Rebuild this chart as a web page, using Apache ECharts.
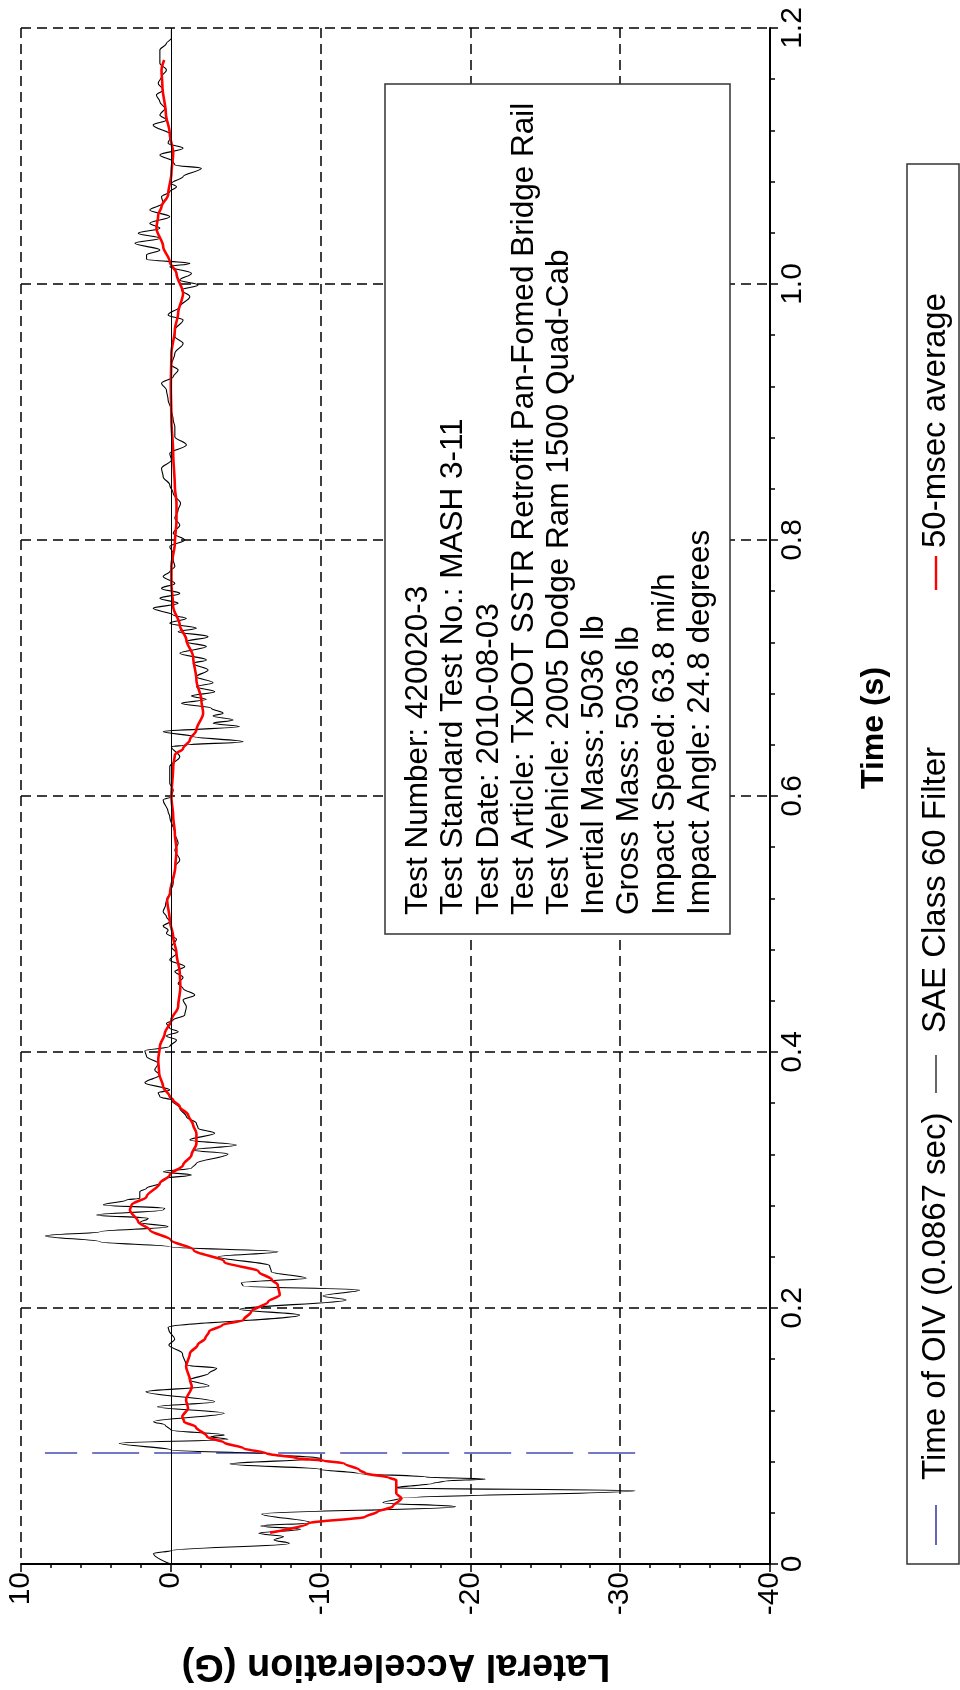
<!DOCTYPE html>
<html>
<head>
<meta charset="utf-8">
<script src="https://cdn.jsdelivr.net/npm/echarts@6/dist/echarts.min.js"></script>
<style>
html, body { margin: 0; padding: 0; background: #fff; }
#chart { width: 960px; height: 1690px; }
</style>
</head>
<body>
<div id="chart"></div>
<script>
// Lateral acceleration trace, plotted with time running up the page
const accelTickLabels = ['10', '0', '-10', '-20', '-30', '-40'];
const timeTickLabels = ['0', '0.2', '0.4', '0.6', '0.8', '1.0', '1.2'];

// SAE Class 60 filtered signal (s, G)
const saeTime = [
  0, 0.0083, 0.0104, 0.0161, 0.0188, 0.0214, 0.0240, 0.0271, 0.0297, 0.0323,
  0.0391, 0.0448, 0.0479, 0.0513, 0.0573, 0.0594, 0.0630, 0.0648, 0.0664, 0.0680,
  0.0708, 0.0740, 0.0781, 0.0826, 0.0859, 0.0891, 0.0943, 0.0974, 0.0995, 0.1008,
  0.1047, 0.1086, 0.1112, 0.1177, 0.1229, 0.1268, 0.1346, 0.1391, 0.1438, 0.1490,
  0.1529, 0.1555, 0.1646, 0.1711, 0.1755, 0.1828, 0.1849, 0.1945, 0.1990, 0.2063,
  0.2094, 0.2141, 0.2172, 0.2198, 0.2232, 0.2284, 0.2331, 0.2401, 0.2440, 0.2479,
  0.2518, 0.2563, 0.2596, 0.2635, 0.2667, 0.2700, 0.2727, 0.2766, 0.2779, 0.2805,
  0.2844, 0.2857, 0.2909, 0.2935, 0.2974, 0.3013, 0.3039, 0.3065, 0.3091, 0.3130,
  0.3203, 0.3234, 0.3273, 0.3313, 0.3365, 0.3404, 0.3443, 0.3495, 0.3560, 0.3625,
  0.3651, 0.3682, 0.3703, 0.3760, 0.3820, 0.3859, 0.3911, 0.3964, 0.4010, 0.4042,
  0.4094, 0.4125, 0.4159, 0.4185, 0.4224, 0.4250, 0.4289, 0.4354, 0.4406, 0.4445,
  0.4497, 0.4536, 0.4583, 0.4628, 0.4667, 0.4719, 0.4771, 0.4823, 0.4880, 0.4927,
  0.4953, 0.4984, 0.5018, 0.5057, 0.5096, 0.5148, 0.5188, 0.5240, 0.5318, 0.5448,
  0.5500, 0.5578, 0.5630, 0.5708, 0.5839, 0.5878, 0.5969, 0.5995, 0.6047, 0.6099,
  0.6229, 0.6307, 0.6385, 0.6398, 0.6424, 0.6464, 0.6503, 0.6542, 0.6568, 0.6594,
  0.6625, 0.6646, 0.6685, 0.6724, 0.6755, 0.6781, 0.6815, 0.6854, 0.6885, 0.6932,
  0.6984, 0.7036, 0.7063, 0.7115, 0.7167, 0.7206, 0.7245, 0.7284, 0.7310, 0.7349,
  0.7388, 0.7414, 0.7466, 0.7505, 0.7544, 0.7583, 0.7622, 0.7661, 0.7714, 0.7753,
  0.7792, 0.7844, 0.7896, 0.7948, 0.8000, 0.8052, 0.8117, 0.8169, 0.8234, 0.8286,
  0.8365, 0.8430, 0.8495, 0.8560, 0.8625, 0.8677, 0.8742, 0.8807, 0.8885, 0.8938,
  0.9016, 0.9094, 0.9172, 0.9224, 0.9276, 0.9328, 0.9367, 0.9458, 0.9536, 0.9589,
  0.9641, 0.9719, 0.9758, 0.9823, 0.9901, 0.9953, 0.9992, 1.0031, 1.0083, 1.0135,
  1.0161, 1.0193, 1.0227, 1.0266, 1.0318, 1.0357, 1.0396, 1.0435, 1.0474, 1.0526,
  1.0578, 1.0630, 1.0682, 1.0721, 1.0760, 1.0786, 1.0839, 1.0904, 1.0930, 1.0956,
  1.1008, 1.1060, 1.1099, 1.1164, 1.1242, 1.1281, 1.1320, 1.1372, 1.1424, 1.1477,
  1.1516, 1.1568, 1.1620, 1.1672, 1.1724, 1.1776, 1.1828, 1.1880, 1.1919, 1.1984
];
const saeAccel = [
  0, 1.15, 0, -7.91, -6.89, -7.53, -5.87, -8.67, -6.0, -9.31,
  -6.07, -19.0, -14.16, -15.3, -31.0, -15.0, -17.5, -18.3, -21.0, -17.0,
  -12.5, -9.95, -3.95, -9.95, -6.5, 0, 3.44, -3.83, -2.68, -3.57,
  0, 0.38, 1.15, -3.57, 0.89, -2.93, 1.66, -2.55, -1.28, -2.55,
  -3.06, -1.02, -0.77, 0.13, -0.26, 0.13, 0.18, -8.6, -4.6, -11.71,
  -10.16, -12.6, -4.82, -4.71, -9.04, -6.71, -6.6, -3.16, -7.16, 0.07,
  4.73, 8.36, 4.73, 0.18, 2.07, 1.51, 4.96, 0.51, 0.4, 4.51,
  2.96, 2.07, 2.07, 1.62, 0.73, 0.29, -1.38, 0.51, -1.38, -1.71,
  -3.82, -1.49, -4.38, -1.27, -2.93, -1.82, -1.71, -1.04, -0.6, -0.04,
  0.73, 0.84, 0.07, 1.73, 0.73, 1.07, 0.84, 1.62, 1.73, 0.07,
  -0.38, 0.29, -0.49, 0.07, 0.29, -0.16, -0.93, -1.04, -0.82, -1.6,
  -0.82, -0.49, -0.82, -0.27, -0.93, 0.07, -0.38, -0.04, -0.38, 0.29,
  0.18, 0.51, 0.07, 0.29, 0.51, 0.35, 0.29, 0.07, -0.16, -0.27,
  -0.6, -0.27, -0.49, -0.27, 0.07, 0.18, 0.51, -0.04, -0.16, 0.07,
  0.07, -0.6, -0.04, -1.04, -4.82, -1.49, 0.51, -4.6, -2.82, -4.16,
  -2.82, -3.49, -2.71, -0.71, -2.38, -1.38, -2.93, -1.71, -2.82, -1.71,
  -2.49, -1.49, -2.38, -0.6, -2.38, -1.04, -2.49, -0.49, -1.71, 0.07,
  -1.04, -0.16, 1.18, -0.49, 0.73, -0.6, 0.62, -0.27, 0.51, 0.07,
  -0.27, -0.16, -0.16, 0.07, -0.93, -0.16, -0.6, -0.27, -0.49, -0.65,
  -0.16, 0.07, 0.51, 0.62, -0.04, 0.07, -1.04, -0.27, -0.27, -0.16,
  -0.04, 0.18, 0.29, 0.62, -0.16, -0.49, -0.04, -0.27, -0.82, -0.27,
  -0.27, -0.82, 0.18, -0.6, -1.27, -0.71, -1.82, -0.6, -1.38, 0.07,
  -1.27, 1.62, 1.62, 0.73, 2.4, 0.73, 2.18, 0.73, 1.4, 0.07,
  1.4, 0.51, 0.62, 0.07, -0.38, -0.04, -0.82, -2.04, -0.27, -0.16,
  0.73, -0.82, 0.18, -0.04, 1.18, 0.29, 0.73, 0.4, 0.73, 0.96,
  0.51, 0.84, 0.62, 0.29, 0.73, 0.73, 0.73, 0.29, -0.04, -0.04
];

// 50-msec moving average (s, G)
const avgTime = [
  0.0245, 0.0318, 0.0370, 0.0409, 0.0448, 0.0513, 0.0552, 0.0604, 0.0656, 0.0677,
  0.0708, 0.0734, 0.0786, 0.0807, 0.0826, 0.0865, 0.0904, 0.0948, 0.0995, 0.1073,
  0.1112, 0.1151, 0.1216, 0.1281, 0.1385, 0.1438, 0.1542, 0.1646, 0.1711, 0.1763,
  0.1815, 0.1867, 0.1906, 0.1971, 0.2049, 0.2102, 0.2180, 0.2219, 0.2284, 0.2362,
  0.2453, 0.2531, 0.2609, 0.2674, 0.2766, 0.2805, 0.2870, 0.2974, 0.3039, 0.3117,
  0.3195, 0.3286, 0.3365, 0.3430, 0.3508, 0.3573, 0.3625, 0.3651, 0.3729, 0.3833,
  0.3938, 0.4042, 0.4146, 0.4250, 0.4354, 0.4510, 0.4615, 0.4771, 0.4901, 0.5031,
  0.5188, 0.5240, 0.5448, 0.5578, 0.5708, 0.5839, 0.5995, 0.6229, 0.6320, 0.6372,
  0.6438, 0.6516, 0.6646, 0.6750, 0.6906, 0.7089, 0.7219, 0.7336, 0.7479, 0.7661,
  0.7792, 0.7974, 0.8156, 0.8286, 0.8417, 0.8677, 0.8938, 0.9198, 0.9458, 0.9641,
  0.9771, 0.9927, 1.0083, 1.0174, 1.0292, 1.0435, 1.0539, 1.0604, 1.0698, 1.0865,
  1.1021, 1.1177, 1.1333, 1.1542, 1.1672, 1.1750
];
const avgAccel = [
  -6.63, -9.18, -13.0, -13.8, -14.8, -15.4, -15.05, -15.05, -15.05, -14.5,
  -13.0, -12.6, -11.6, -10.2, -8.4, -6.38, -4.85, -3.57, -2.42, -1.66,
  -0.89, -0.77, -1.15, -1.02, -1.4, -1.28, -1.02, -1.28, -1.79, -2.3,
  -2.55, -3.44, -4.85, -5.36, -6.5, -7.27, -7.14, -6.76, -5.87, -3.57,
  -1.53, 0, 1.4, 2.18, 2.73, 2.62, 1.62, 0.73, 0.07, -0.82,
  -1.38, -1.71, -1.71, -1.49, -1.16, -0.6, -0.16, 0.07, 0.51, 0.78,
  0.84, 0.73, 0.4, -0.04, -0.49, -0.64, -0.6, -0.38, -0.16, 0.07,
  0.24, 0.05, -0.3, -0.38, -0.27, -0.16, -0.04, -0.16, -0.27, -0.82,
  -1.27, -1.71, -2.16, -2.04, -1.71, -1.49, -1.04, -0.6, -0.16, -0.04,
  -0.04, -0.27, -0.38, -0.38, -0.27, -0.16, -0.04, 0, -0.04, -0.27,
  -0.49, -0.82, -0.38, 0.07, 0.51, 0.96, 0.84, 0.62, 0.18, -0.04,
  -0.16, 0.07, 0.33, 0.56, 0.62, 0.44
];

// Time of OIV marker and its acceleration extent
const oivTime = 0.0867;
const oivAccelEnds = [-31.0, 8.4];

const seriesNames = ['Time of OIV (0.0867 sec)', 'SAE Class 60 Filter', '50-msec average'];
const infoLines = [
  'Test Number: 420020-3',
  'Test Standard Test No.: MASH 3-11',
  'Test Date: 2010-08-03',
  'Test Article: TxDOT SSTR Retrofit Pan-Fomed Bridge Rail',
  'Test Vehicle: 2005 Dodge Ram 1500 Quad-Cab',
  'Inertial Mass: 5036 lb',
  'Gross Mass: 5036 lb',
  'Impact Speed: 63.8 mi/h',
  'Impact Angle: 24.8 degrees'
];
const xTitle = 'Time (s)';
const yTitle = 'Lateral Acceleration (G)';

const FONT = '"Liberation Sans", Arial, Helvetica, sans-serif';
const saeData = saeTime.map((t, i) => [saeAccel[i], t]);
const avgData = avgTime.map((t, i) => [avgAccel[i], t]);
const oivData = oivAccelEnds.map(a => [a, oivTime]);

const chart = echarts.init(document.getElementById('chart'), null, { renderer: 'canvas' });

const tickFont = { fontSize: 30, fontFamily: FONT, color: '#000' };

// legend laid out along the rotated page: line sample, then its label
const legendX = 936;
function legendEntry(y0, y1, color, width, label, textY) {
  return [
    { type: 'line', z: 101, shape: { x1: legendX, y1: y0, x2: legendX, y2: y1 },
      style: { stroke: color, lineWidth: width } },
    { type: 'text', z: 101, x: legendX, y: textY, rotation: Math.PI / 2,
      style: { text: label, font: '33px ' + FONT, fill: '#000',
               textAlign: 'left', textVerticalAlign: 'middle' } }
  ];
}

const option = {
  animation: false,
  backgroundColor: '#fff',
  grid: { left: 21, right: 190, top: 28, bottom: 126, containLabel: false, outerBoundsMode: 'none' },
  legend: { show: false, data: seriesNames },
  xAxis: {
    type: 'value', min: -40, max: 10, interval: 10, inverse: true, position: 'bottom',
    axisLine: { show: true, onZero: false, lineStyle: { color: '#000', width: 2 } },
    axisTick: { show: true, length: 8, lineStyle: { color: '#000', width: 1.5 } },
    minorTick: { show: true, splitNumber: 5, length: 4, lineStyle: { color: '#000', width: 1.5 } },
    axisLabel: Object.assign({ rotate: 90, margin: 8,
      formatter: v => accelTickLabels[Math.round((10 - v) / 10)] }, tickFont),
    splitLine: { show: true, lineStyle: { type: [10, 6], width: 1.5,
      color: ['#000', '#000', '#000', '#000', 'rgba(0,0,0,0)', '#000'] } }
  },
  yAxis: {
    type: 'value', min: 0, max: 1.2, interval: 0.2, position: 'right',
    axisLine: { show: true, onZero: false, lineStyle: { color: '#000', width: 2 } },
    axisTick: { show: true, length: 8, lineStyle: { color: '#000', width: 1.5 } },
    minorTick: { show: true, splitNumber: 5, length: 5, lineStyle: { color: '#000', width: 1.5 } },
    axisLabel: Object.assign({ rotate: 90, margin: 8,
      formatter: v => timeTickLabels[Math.round(v / 0.2)] }, tickFont),
    splitLine: { show: true, lineStyle: { type: [10, 6], width: 1.5, color: '#000' } }
  },
  series: [
    {
      name: seriesNames[0], type: 'line', data: oivData, showSymbol: false, silent: true, z: 2,
      lineStyle: { color: '#7378c4', width: 2, type: [47, 15] },
      markLine: {
        silent: true, symbol: ['none', 'none'], label: { show: false },
        lineStyle: { color: '#000', width: 1, type: 'solid' },
        data: [{ xAxis: 0 }]
      }
    },
    {
      name: seriesNames[1], type: 'line', data: saeData, showSymbol: false, silent: true, z: 3,
      smooth: 0.35, smoothMonotone: 'y',
      lineStyle: { color: '#000', width: 1.1 }
    },
    {
      name: seriesNames[2], type: 'line', data: avgData, showSymbol: false, silent: true, z: 4,
      smooth: 0.3, smoothMonotone: 'y',
      lineStyle: { color: '#ff0000', width: 2.6 }
    }
  ],
  graphic: [
    // test information box
    { type: 'rect', z: 100, shape: { x: 385, y: 84, width: 345, height: 850 },
      style: { fill: '#fff', stroke: '#333', lineWidth: 1.5 } },
    { type: 'text', z: 101, x: 401, y: 915, rotation: Math.PI / 2,
      style: { text: infoLines.join('\n'), font: '31.5px ' + FONT, lineHeight: 35.2,
               fill: '#000', textAlign: 'left', textVerticalAlign: 'top' } },
    // axis titles
    { type: 'text', z: 101, x: 874, y: 728, rotation: Math.PI / 2,
      style: { text: xTitle, font: 'bold 32px ' + FONT, fill: '#000',
               textAlign: 'center', textVerticalAlign: 'middle' } },
    { type: 'text', z: 101, x: 396, y: 1665, rotation: Math.PI,
      style: { text: yTitle, font: 'bold 38px ' + FONT, fill: '#000',
               textAlign: 'center', textVerticalAlign: 'middle' } },
    // legend box
    { type: 'rect', z: 100, shape: { x: 907, y: 164, width: 52, height: 1400 },
      style: { fill: '#fff', stroke: '#333', lineWidth: 1.5 } }
  ]
    .concat(legendEntry(1545, 1505, '#000080', 1.2, seriesNames[0], 1480))
    .concat(legendEntry(1093, 1055, '#000', 1.2, seriesNames[1], 1033))
    .concat(legendEntry(590, 556, '#ff0000', 2.4, seriesNames[2], 548))
};

chart.setOption(option);
</script>
</body>
</html>
